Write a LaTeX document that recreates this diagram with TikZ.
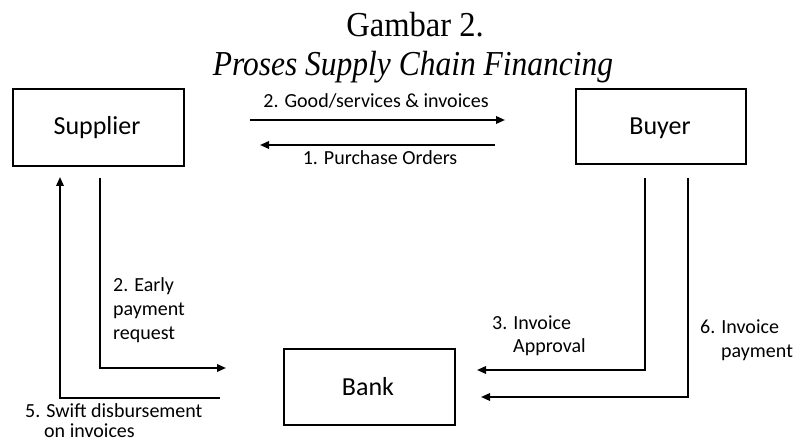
\documentclass[tikz,border=0pt]{standalone}
\usepackage{fontspec}
\setmainfont{Carlito}
\newfontfamily\titlefont{Liberation Serif}
\usetikzlibrary{arrows.meta}
\begin{document}
\begin{tikzpicture}[x=1pt,y=-1pt,
  box/.style={draw,line width=2pt,anchor=north west,inner sep=0pt},
  flow/.style={line width=1.8pt,-{Triangle[length=9pt,width=7.5pt]}},
  lbl/.style={font=\fontsize{20}{24}\selectfont,inner sep=0pt,anchor=base west},
  boxtxt/.style={font=\fontsize{26}{30}\selectfont,inner sep=0pt,anchor=base}]
\useasboundingbox (0,0) rectangle (797,443);
\node[font=\titlefont\fontsize{35}{40}\selectfont,inner sep=0pt,anchor=base] (t1) at (415,37) {\scalebox{0.93}[1]{Gambar 2.}};
\node[font=\titlefont\itshape\fontsize{35}{40}\selectfont,inner sep=0pt,anchor=base] (t2) at (413,76) {\scalebox{0.9}[1]{Proses Supply Chain Financing}};

\node[box,minimum width=171pt,minimum height=77pt] (sup) at (12,88) {};
\node[boxtxt] (supt) at (97,135) {Supplier};
\node[box,minimum width=170pt,minimum height=75pt] (buy) at (575,88) {};
\node[boxtxt] (buyt) at (660,135) {Buyer};
\node[box,minimum width=171pt,minimum height=76pt] (bank) at (283,348) {};
\node[boxtxt] (bankt) at (368,395) {Bank};

\coordinate (g1) at (250,120);
\coordinate (g2) at (505,120);
\draw[flow] (g1) -- (g2);
\node[lbl,anchor=base] (lg) at (376,108) {2. Good/services \& invoices};
\coordinate (p1) at (495,145);
\coordinate (p2) at (260,145);
\draw[flow] (p1) -- (p2);
\node[lbl,anchor=base] (lp) at (380,165) {1. Purchase Orders};

\coordinate (e1) at (100,178);
\coordinate (e2) at (100,368);
\coordinate (e3) at (226,368);
\draw[flow] (e1) -- (e2) -- (e3);
\node[lbl] (le1) at (113,292) {2. Early};
\node[lbl] (le2) at (113,316) {payment};
\node[lbl] (le3) at (113,339) {request};

\coordinate (s1) at (220,398);
\coordinate (s2) at (60,398);
\coordinate (s3) at (60,177);
\draw[flow] (s1) -- (s2) -- (s3);
\node[lbl] (ls1) at (25,417) {5. Swift disbursement};
\node[lbl] (ls2) at (44,437) {on invoices};

\coordinate (a1) at (645,178);
\coordinate (a2) at (645,370);
\coordinate (a3) at (477,370);
\draw[flow] (a1) -- (a2) -- (a3);
\node[lbl] (la1) at (492,329) {3. Invoice};
\node[lbl] (la2) at (513,352) {Approval};

\coordinate (b1) at (688,178);
\coordinate (b2) at (688,397);
\coordinate (b3) at (481,397);
\draw[flow] (b1) -- (b2) -- (b3);
\node[lbl] (lb1) at (700,333) {6. Invoice};
\node[lbl] (lb2) at (721,357) {payment};
\end{tikzpicture}
\end{document}
